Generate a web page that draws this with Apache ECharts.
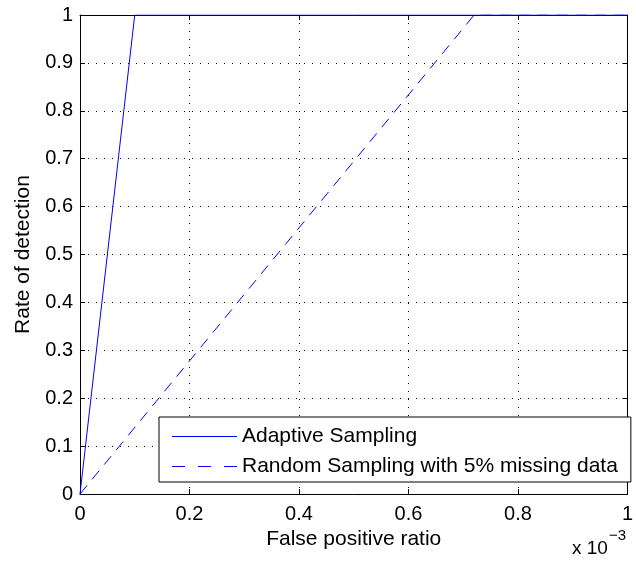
<!DOCTYPE html>
<html>
<head>
<meta charset="utf-8">
<script src="https://cdn.jsdelivr.net/npm/echarts@6/dist/echarts.min.js"></script>
<style>html,body{margin:0;padding:0;background:#fff}#c{width:636px;height:561px}</style>
</head>
<body>
<div id="c"></div>
<script>
// x values are in units of 1e-3 (axis shows "x 10^-3")
var adaptiveX = [0, 0.1, 1];
var adaptiveY = [0, 1, 1];
var randomX = [0, 0.72, 1];
var randomY = [0, 1, 1];
var seriesNames = ['Adaptive Sampling', 'Random Sampling with 5% missing data'];
var xTicks = [0, 0.2, 0.4, 0.6, 0.8, 1];
var yTicks = [0, 0.1, 0.2, 0.3, 0.4, 0.5, 0.6, 0.7, 0.8, 0.9, 1];

function pairs(xs, ys) { return xs.map(function (x, i) { return [x, ys[i]]; }); }

var FONT = 'Liberation Sans, Arial, Helvetica, sans-serif';
var BLUE = '#0000ff';
var chart = echarts.init(document.getElementById('c'), null, {renderer: 'canvas'});
var axisCommon = {
  type: 'value', min: 0, max: 1,
  axisLine: {show: true, onZero: false, lineStyle: {color: '#000', width: 1}},
  axisTick: {show: true, inside: true, length: 5, lineStyle: {color: '#000'}},
};
chart.setOption({
  animation: false,
  backgroundColor: '#fff',
  grid: {left: 80, right: 3, top: 15, bottom: 67, containLabel: false},
  xAxis: [
    Object.assign({}, axisCommon, {
      position: 'bottom', interval: 0.2,
      name: 'False positive ratio', nameLocation: 'middle', nameGap: 33,
      nameTextStyle: {fontFamily: FONT, fontSize: 21, color: '#000'},
      axisLabel: {fontFamily: FONT, fontSize: 20, color: '#000', margin: 10,
        formatter: function (v) { return String(Math.round(v * 10) / 10); }},
      splitLine: {show: true, lineStyle: {color: '#000', type: [1, 7], width: 1}}
    }),
    Object.assign({}, axisCommon, {
      position: 'top', interval: 0.2,
      axisLabel: {show: false}, splitLine: {show: false}
    })
  ],
  yAxis: [
    Object.assign({}, axisCommon, {
      position: 'left', interval: 0.1,
      name: 'Rate of detection', nameLocation: 'middle', nameGap: 46,
      nameTextStyle: {fontFamily: FONT, fontSize: 21, color: '#000'},
      axisLabel: {fontFamily: FONT, fontSize: 20, color: '#000', margin: 7,
        formatter: function (v) { return String(Math.round(v * 10) / 10); }},
      splitLine: {show: true, lineStyle: {color: '#000', type: [1, 7], width: 1}}
    }),
    Object.assign({}, axisCommon, {
      position: 'right', interval: 0.1,
      axisLabel: {show: false}, splitLine: {show: false}
    })
  ],
  legend: {
    orient: 'vertical', left: 159, top: 417,
    data: [
      {name: seriesNames[0], icon: 'path://M0,0H65V1H0Z'},
      {name: seriesNames[1], icon: 'path://M0,0H13V1H0Z M26,0H39V1H26Z M52,0H65V1H52Z'}
    ],
    symbolKeepAspect: true,
    backgroundColor: '#fff', borderColor: '#000', borderWidth: 1,
    padding: [9, 13, 5, 13],
    itemWidth: 65, itemHeight: 18, itemGap: 9,
    itemStyle: {color: BLUE, borderWidth: 0},
    textStyle: {fontFamily: FONT, fontSize: 21, color: '#000'},
    z: 10
  },
  series: [
    {
      name: seriesNames[0], type: 'line', data: pairs(adaptiveX, adaptiveY),
      symbol: 'none', showSymbol: false,
      lineStyle: {color: BLUE, width: 1, type: 'solid'},
      itemStyle: {color: BLUE}
    },
    {
      name: seriesNames[1], type: 'line', data: pairs(randomX, randomY),
      symbol: 'none', showSymbol: false,
      lineStyle: {color: BLUE, width: 1, type: [11, 8]},
      itemStyle: {color: BLUE}
    }
  ],
  graphic: [{
    type: 'text', left: 572, top: 528,
    style: {
      text: '{a|x 10}{b|\u22123}',
      rich: {
        a: {fontFamily: FONT, fontSize: 19, color: '#000', verticalAlign: 'bottom', lineHeight: 30},
        b: {fontFamily: FONT, fontSize: 15, color: '#000', verticalAlign: 'top', lineHeight: 30, padding: [0, 0, 14, 1]}
      }
    }
  }]
});
</script>
</body>
</html>
